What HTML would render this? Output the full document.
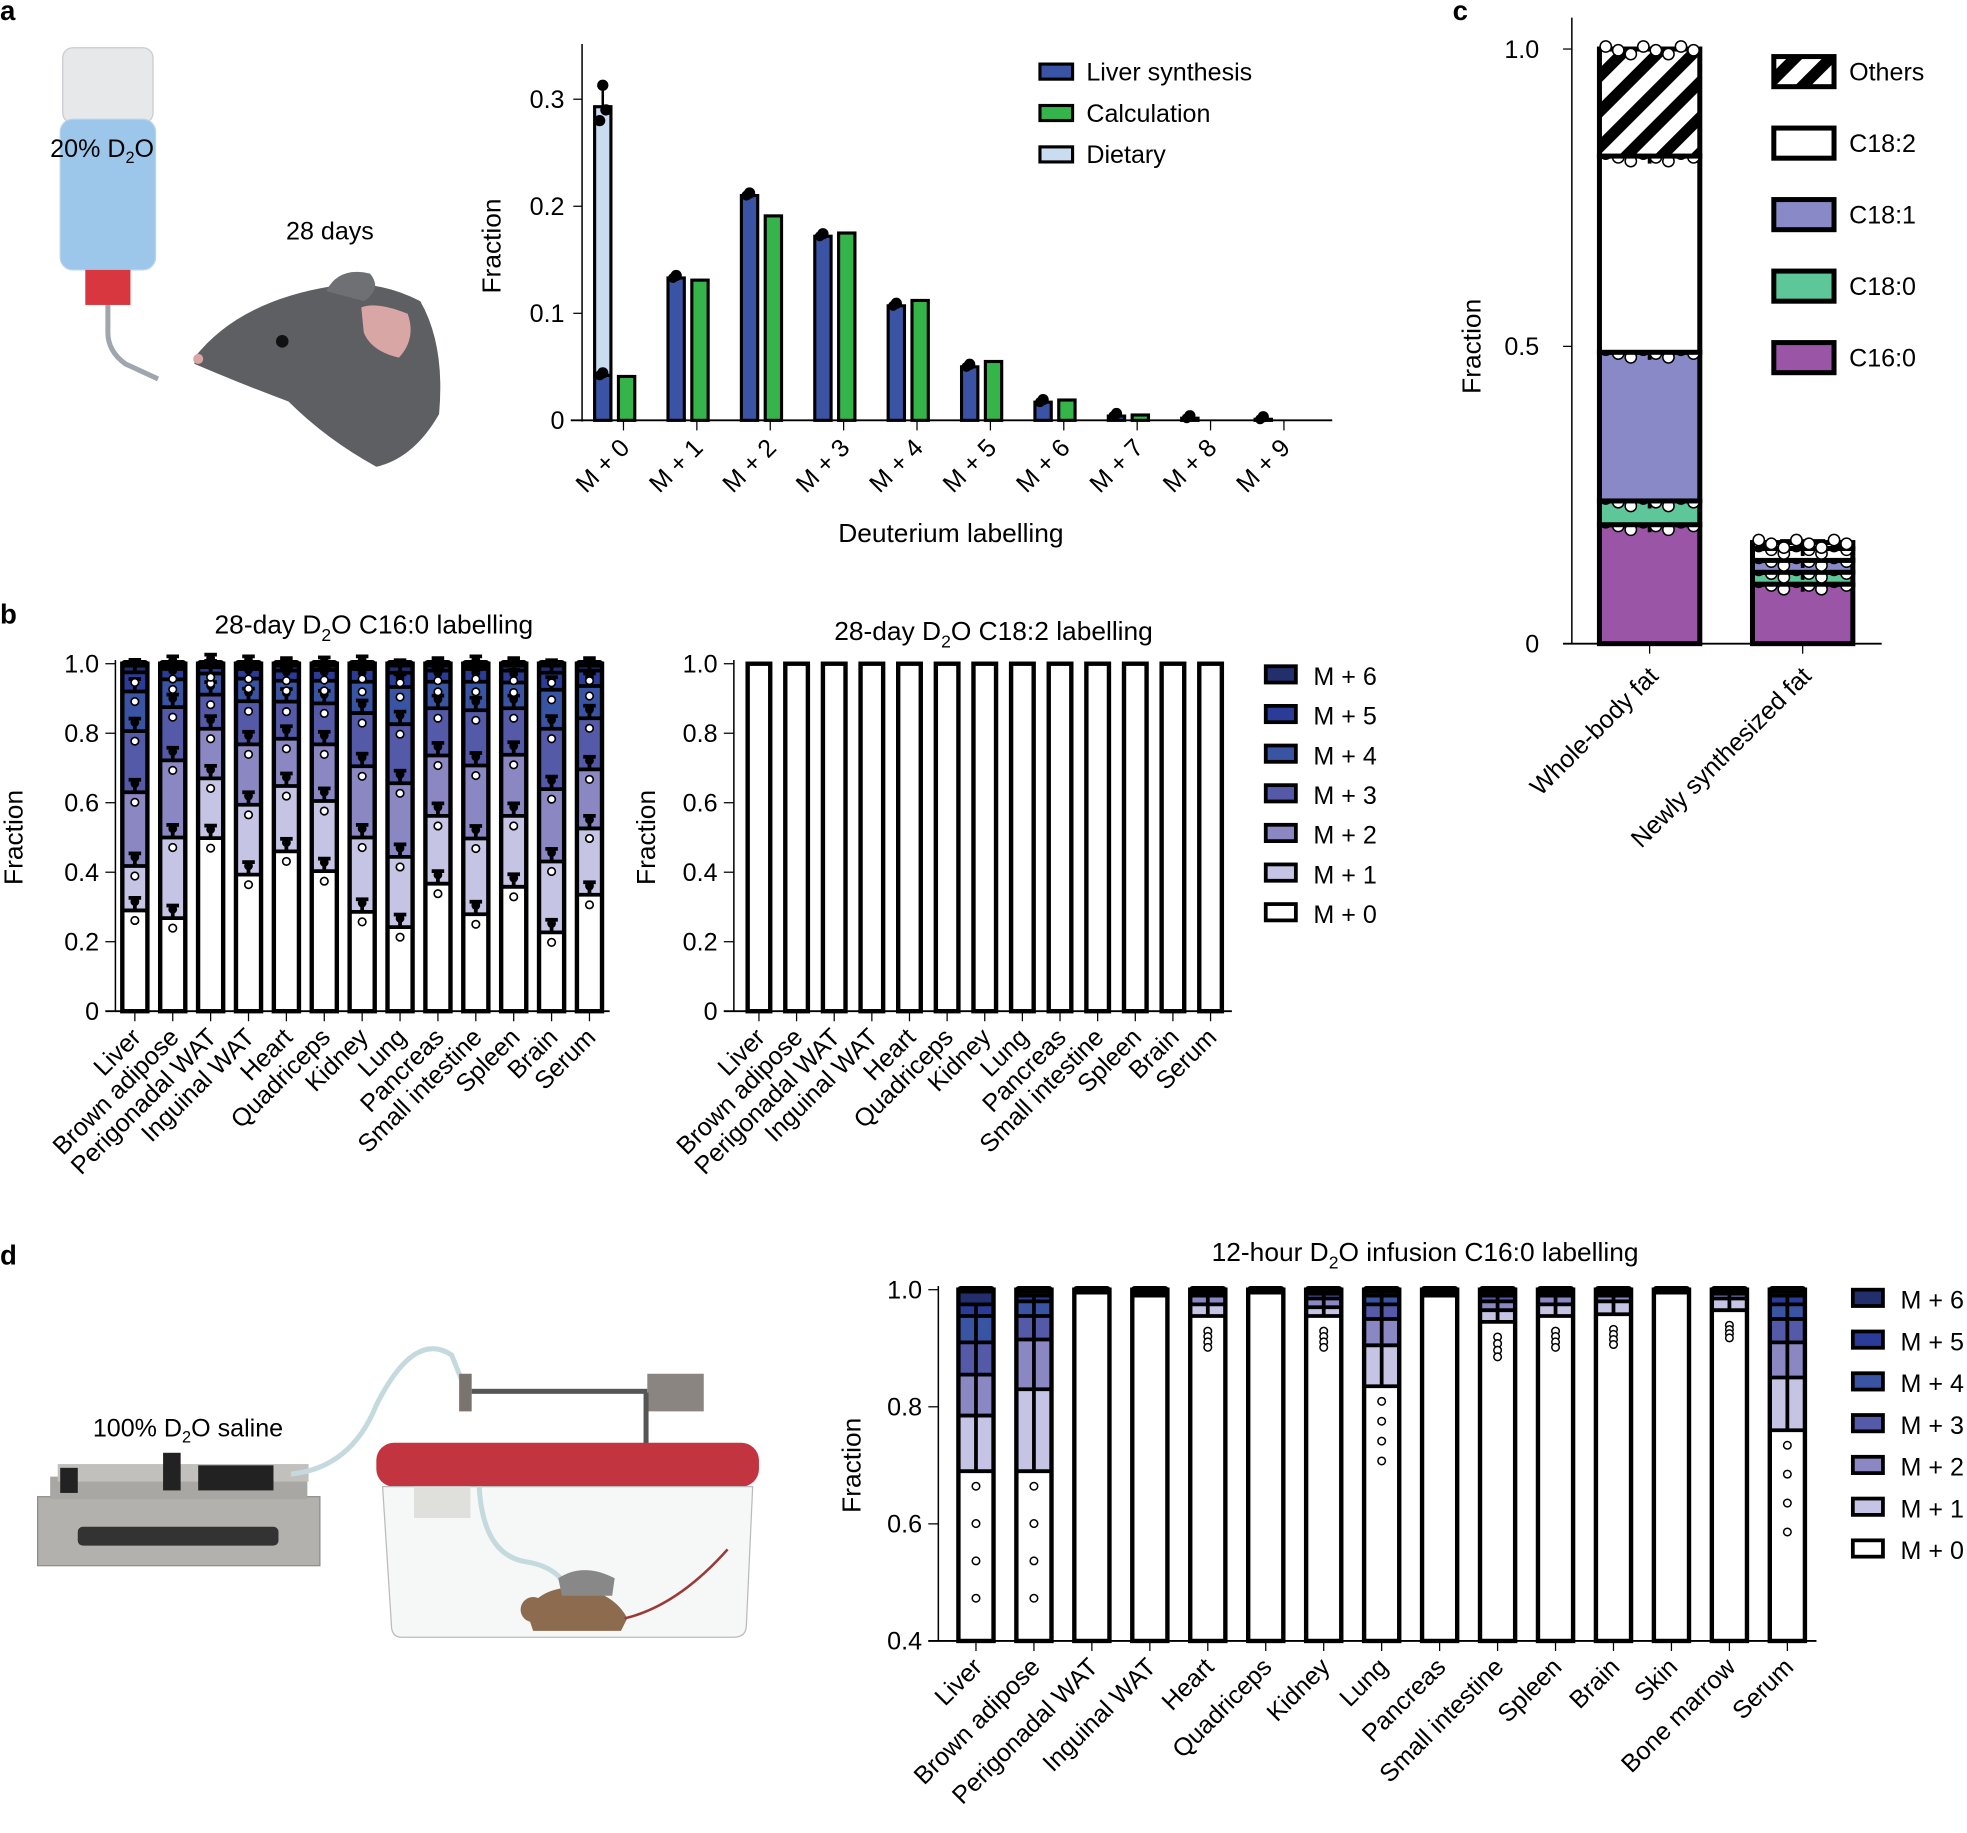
<!DOCTYPE html>
<html><head><meta charset="utf-8"><style>
html,body{margin:0;padding:0;background:#fff;}
svg{display:block;font-family:"Liberation Sans",Arial,sans-serif;}
</style></head><body>
<svg id="fig" width="1967" height="1833" viewBox="0 0 1568 1461" xmlns="http://www.w3.org/2000/svg">
<defs>
<pattern id="hatch" patternUnits="userSpaceOnUse" width="20" height="20" patternTransform="rotate(45)">
<rect width="20" height="20" fill="#fff"/><rect width="9" height="20" fill="#000"/>
</pattern>
</defs>
<text x="0" y="16" font-size="22" font-weight="bold">a</text>
<text x="0" y="497" font-size="22" font-weight="bold">b</text>
<text x="1158" y="16" font-size="22" font-weight="bold">c</text>
<text x="0" y="1008" font-size="22" font-weight="bold">d</text>

<g>
<rect x="50" y="38" width="72" height="60" rx="8" fill="#e6e8ea" stroke="#c8ccd0"/>
<rect x="48" y="95" width="76" height="120" rx="10" fill="#9cc7ea" stroke="#b8d4ea"/>
<rect x="68" y="215" width="36" height="28" fill="#d9373f"/>
<path d="M86 243 L86 265 Q86 280 100 290 L126 302" stroke="#a0a6ad" stroke-width="4" fill="none"/>
</g>
<text x="40" y="125" font-size="20">20% D<tspan font-size="13" dy="5">2</tspan><tspan dy="-5">O</tspan></text>
<text x="228" y="191" font-size="20">28 days</text>
<g>
<path d="M155 285 Q190 240 265 228 Q300 222 335 240 Q355 275 350 330 Q330 365 300 372 Q260 350 230 320 Q190 305 155 290 Z" fill="#5d5f62"/>
<path d="M260 232 Q270 212 295 218 Q305 230 290 240 Z" fill="#6e7074"/>
<path d="M288 245 Q300 240 325 250 Q332 270 318 285 Q296 280 290 265 Z" fill="#d8a7a5"/>
<circle cx="225" cy="272" r="5" fill="#111"/>
<circle cx="158" cy="286" r="4" fill="#d8a7a5"/>
</g>

<g>
<rect x="30" y="1193" width="225" height="55" fill="#b3b1ad" stroke="#8f8d8a"/>
<rect x="40" y="1177" width="205" height="18" fill="#a9a7a3"/>
<rect x="62" y="1217" width="160" height="15" rx="4" fill="#333"/>
<rect x="46" y="1167" width="200" height="14" fill="#c2c0bc"/>
<rect x="130" y="1158" width="14" height="30" fill="#222"/>
<rect x="158" y="1168" width="60" height="20" fill="#222"/>
<rect x="48" y="1170" width="14" height="20" fill="#222"/>
<path d="M232 1175 Q280 1170 300 1120 Q330 1060 360 1080 L368 1100" stroke="#c4dadf" stroke-width="4" fill="none"/>
<rect x="366" y="1095" width="10" height="30" fill="#7b746e"/>
<rect x="376" y="1107" width="140" height="4" fill="#555"/>
<rect x="516" y="1095" width="45" height="30" fill="#8a8580"/>
<rect x="513" y="1110" width="4" height="50" fill="#555"/>
<rect x="300" y="1150" width="305" height="35" rx="14" fill="#c2343f"/>
<path d="M305 1185 L600 1185 L595 1295 Q595 1305 585 1305 L320 1305 Q312 1305 312 1295 Z" fill="#f6f8f8" stroke="#bbb"/>
<rect x="330" y="1185" width="45" height="25" fill="#dfe0dc"/>
<path d="M382 1185 Q385 1240 420 1245 Q450 1250 455 1275" stroke="#c4dadf" stroke-width="4" fill="none"/>
<path d="M420 1285 Q430 1265 460 1265 Q490 1270 500 1290 L495 1300 L425 1300 Z" fill="#8c6b4e"/>
<circle cx="425" cy="1283" r="10" fill="#8c6b4e"/>
<path d="M445 1258 Q465 1245 490 1258 L488 1272 L448 1272 Z" fill="#888"/>
<path d="M498 1290 Q540 1280 580 1235" stroke="#9b3838" stroke-width="2" fill="none"/>
</g>
<text x="74" y="1145" font-size="20">100% D<tspan font-size="13" dy="5">2</tspan><tspan dy="-5">O saline</tspan></text>

<g id="charts"></g>
</svg>
<script>
const aCategories = ["M + 0","M + 1","M + 2","M + 3","M + 4","M + 5","M + 6","M + 7","M + 8","M + 9"];
const aLiver = [0.042,0.133,0.210,0.172,0.107,0.050,0.017,0.004,0.002,0.001];
const aCalc = [0.041,0.131,0.191,0.175,0.112,0.055,0.019,0.005,0.000,0.000];
const aDietaryTop = 0.293;
const aTicks = [0,0.1,0.2,0.3];
const bTissues = ["Liver","Brown adipose","Perigonadal WAT","Inguinal WAT","Heart","Quadriceps","Kidney","Lung","Pancreas","Small intestine","Spleen","Brain","Serum"];
const bC16 = [
 [0.290,0.418,0.630,0.806,0.920,0.975],
 [0.268,0.500,0.722,0.875,0.955,0.985],
 [0.498,0.670,0.813,0.911,0.972,0.990],
 [0.393,0.594,0.768,0.892,0.957,0.985],
 [0.460,0.648,0.784,0.891,0.951,0.980],
 [0.403,0.605,0.768,0.886,0.951,0.982],
 [0.286,0.500,0.705,0.858,0.948,0.985],
 [0.242,0.444,0.656,0.826,0.933,0.974],
 [0.367,0.562,0.736,0.872,0.948,0.980],
 [0.279,0.497,0.707,0.866,0.948,0.985],
 [0.358,0.562,0.738,0.872,0.946,0.980],
 [0.227,0.431,0.639,0.813,0.925,0.974],
 [0.335,0.526,0.696,0.843,0.936,0.980]];
const bC18 = [1,1,1,1,1,1,1,1,1,1,1,1,1];
const bTicks = [0,0.2,0.4,0.6,0.8,1.0];
const bTickLabels = ["0","0.2","0.4","0.6","0.8","1.0"];
const isoLabels = ["M + 6","M + 5","M + 4","M + 3","M + 2","M + 1","M + 0"];
const cCategories = ["Whole-body fat","Newly synthesized fat"];
const cSpecies = ["C16:0","C18:0","C18:1","C18:2","Others"];
const cWhole = [0.20,0.04,0.25,0.33,0.18];
const cNew = [0.10,0.02,0.02,0.02,0.01];
const cTicks = [0,0.5,1.0];
const cTickLabels = ["0","0.5","1.0"];
const dTissues = ["Liver","Brown adipose","Perigonadal WAT","Inguinal WAT","Heart","Quadriceps","Kidney","Lung","Pancreas","Small intestine","Spleen","Brain","Skin","Bone marrow","Serum"];
const dC16 = [
 [0.690,0.785,0.855,0.910,0.955,0.975],
 [0.690,0.830,0.915,0.955,0.980,0.990],
 [0.995,0.997,0.998,0.999,1,1],
 [0.990,0.995,0.998,0.999,1,1],
 [0.955,0.975,0.990,0.995,0.998,1],
 [0.995,0.997,0.998,0.999,1,1],
 [0.955,0.970,0.985,0.993,0.997,1],
 [0.835,0.905,0.950,0.975,0.990,0.997],
 [0.990,0.995,0.998,0.999,1,1],
 [0.945,0.965,0.980,0.990,0.996,1],
 [0.955,0.975,0.990,0.995,0.998,1],
 [0.958,0.980,0.990,0.995,0.998,1],
 [0.995,0.997,0.998,0.999,1,1],
 [0.965,0.985,0.993,0.997,0.999,1],
 [0.760,0.850,0.910,0.950,0.975,0.990]];
const dTicks = [0.4,0.6,0.8,1.0];
const dTickLabels = ["0.4","0.6","0.8","1.0"];

const isoColors = ["#ffffff","#c6c4e4","#8a87c3","#5459a8","#3a54a4","#2b3b98","#232e6c"];
const NS="http://www.w3.org/2000/svg";
const root=document.getElementById('charts');
function el(tag,attrs,parent,txt){const e=document.createElementNS(NS,tag);for(const k in attrs)e.setAttribute(k,attrs[k]);if(txt!==undefined)e.textContent=txt;(parent||root).appendChild(e);return e;}
function lin(d0,d1,r0,r1){return v=>r0+(v-d0)/(d1-d0)*(r1-r0);}

(function(){
 const g=el('g',{});
 
 
 const y=lin(0,0.3,335,79);
 const x=i=>497+58.5*i;
 const ax=el('line',{x1:464,y1:35,x2:464,y2:336,stroke:'#000','stroke-width':1.2},g);
 
 const xx=el('line',{x1:455,y1:335,x2:1062,y2:335,stroke:'#000','stroke-width':1.5},g);
 
 aTicks.forEach(t=>{el('line',{x1:457,x2:464,y1:y(t),y2:y(t),stroke:'#000'},g);
  const tl=el('text',{x:450,y:y(t)+7,'font-size':20,'text-anchor':'end'},g,t===0?'0':t.toFixed(1));
  });
 aCategories.forEach((c,i)=>{
  const cx=x(i);
  el('line',{x1:cx,x2:cx,y1:335,y2:343,stroke:'#000'},g);
  const tl=el('text',{x:cx+6,y:358,'font-size':20,'text-anchor':'end',transform:`rotate(-45 ${cx+6} 358)`},g,c);
  
  const bx=cx-23;
  if(i===0){const d=el('rect',{x:bx,y:y(aDietaryTop),width:13,height:y(aLiver[0])-y(aDietaryTop),fill:'#c9dcf0',stroke:'#000','stroke-width':2.5},g);
   
   el('line',{x1:bx+6.5,x2:bx+6.5,y1:y(aDietaryTop),y2:y(0.313),stroke:'#000','stroke-width':2},g);
   el('circle',{cx:bx+6.5,cy:y(0.313),r:4.5},g);el('circle',{cx:bx+9,cy:y(0.29),r:4.5},g);el('circle',{cx:bx+4,cy:y(0.28),r:4.5},g);}
  const b=el('rect',{x:bx,y:y(aLiver[i]),width:13,height:Math.max(0,y(0)-y(aLiver[i])),fill:'#3b53a5',stroke:'#000','stroke-width':2.5},g);
  
  el('circle',{cx:bx+6.5,cy:y(aLiver[i])-2,r:4.5},g);el('circle',{cx:bx+4,cy:y(aLiver[i]),r:4},g);
  if(aCalc[i]>0.001){const gb=el('rect',{x:cx-4,y:y(aCalc[i]),width:13,height:y(0)-y(aCalc[i]),fill:'#35b44a',stroke:'#000','stroke-width':2.5},g);
  }
 });
 const yl=el('text',{x:0,y:0,'font-size':21,'text-anchor':'middle',transform:'translate(399 196) rotate(-90)'},g,'Fraction');
 
 const xl=el('text',{x:758,y:432,'font-size':21,'text-anchor':'middle'},g,'Deuterium labelling');
 
 [['Liver synthesis','#3b53a5'],['Calculation','#35b44a'],['Dietary','#c9dcf0']].forEach((l,i)=>{
  const lg=el('g',{},g);
  el('rect',{x:829,y:51+33*i,width:26,height:12,fill:l[1],stroke:'#000','stroke-width':2.5},lg);
  el('text',{x:866,y:64+33*i,'font-size':20},lg,l[0]);});
})();

function stacked(opts){
 const g=el('g',{});
 
 
 const y=lin(opts.d0,1,opts.y0,opts.y1);
 const ya=el('line',{x1:opts.ax,x2:opts.ax,y1:opts.y1-3,y2:opts.y0,stroke:'#000','stroke-width':1.2},g);
 
 const xa=el('line',{x1:opts.ax-8,x2:opts.xend,y1:opts.y0,y2:opts.y0,stroke:'#000','stroke-width':1.5},g);
 
 opts.ticks.forEach((t,i)=>{el('line',{x1:opts.ax-8,x2:opts.ax,y1:y(t),y2:y(t),stroke:'#000'},g);
  const tl=el('text',{x:opts.ax-13,y:y(t)+7,'font-size':20,'text-anchor':'end'},g,opts.tickLabels[i]);
  });
 opts.cats.forEach((c,i)=>{
  const cx=opts.x0+opts.step*i, w=opts.bw, bx=cx-w/2;
  el('line',{x1:cx,x2:cx,y1:opts.y0,y2:opts.y0+8,stroke:'#000'},g);
  const tl=el('text',{x:cx+6,y:opts.y0+22,'font-size':20,'text-anchor':'end',transform:`rotate(-45 ${cx+6} ${opts.y0+22})`},g,c);
  
  const bounds=[opts.d0].concat(opts.vals[i]).concat([1]);
  for(let k=0;k<bounds.length-1;k++){
   const lo=Math.max(bounds[k],opts.d0),hi=bounds[k+1];
   if(hi<=lo)continue;
   const seg=el('rect',{x:bx,y:y(hi),width:w,height:y(lo)-y(hi),fill:isoColors[k]},g);
   
   if(k>0&&opts.lines&&lo>opts.d0) el('line',{x1:bx,x2:bx+w,y1:y(lo),y2:y(lo),stroke:'#000','stroke-width':3},g);
  }
  const ol=el('rect',{x:bx,y:y(1),width:w,height:y(opts.d0)-y(1),fill:'none',stroke:'#000','stroke-width':3.5},g);
  
  if(opts.dots){opts.vals[i].forEach(v=>{if(v<0.999){el('line',{x1:cx,x2:cx,y1:y(v),y2:y(v)-10,stroke:'#000','stroke-width':3},g);el('line',{x1:cx-5,x2:cx+5,y1:y(v)-10,y2:y(v)-10,stroke:'#000','stroke-width':3},g);el('circle',{cx:cx,cy:y(v)-7,r:3.5},g);el('circle',{cx:cx,cy:y(v)+8,r:3,fill:'#fff',stroke:'#000','stroke-width':1.3},g);}});
   el('rect',{x:bx-1,y:y(1)-3,width:w+2,height:6,rx:3},g);}
 });
 if(opts.title){const t=el('text',{x:opts.tx,y:opts.ty,'font-size':21,'text-anchor':'middle'},g);
  el('tspan',{},t,opts.title[0]);el('tspan',{'font-size':14,dy:6},t,'2');el('tspan',{dy:-6},t,opts.title[1]);}
 const yl=el('text',{x:0,y:0,'font-size':21,'text-anchor':'middle',transform:`translate(${opts.ylx} ${(opts.y0+opts.y1)/2}) rotate(-90)`},g,'Fraction');
 
 return g;
}
stacked({name:'c16-28day-chart',cats:bTissues,vals:bC16,d0:0,y0:806,y1:529,ax:92,xend:486,x0:107.5,step:30.2,bw:20,ticks:bTicks,tickLabels:bTickLabels,lines:true,dots:true,title:['28-day D','O C16:0 labelling'],tx:298,ty:505,ylx:18});
stacked({name:'c18-2-28day-chart',cats:bTissues,vals:bC18.map(v=>[v,v,v,v,v,v]),d0:0,y0:806,y1:529,ax:585,xend:982,x0:605,step:30,bw:18,ticks:bTicks,tickLabels:bTickLabels,lines:false,dots:false,title:['28-day D','O C18:2 labelling'],tx:792,ty:510,ylx:522});
stacked({name:'c16-12hour-chart',cats:dTissues,vals:dC16,d0:0.4,y0:1308,y1:1028,ax:748,xend:1448,x0:778,step:46.2,bw:28,ticks:dTicks,tickLabels:dTickLabels,lines:true,dots:false,title:['12-hour D','O infusion C16:0 labelling'],tx:1136,ty:1005,ylx:686});
(function(){const y=lin(0.4,1,1308,1028);dC16.forEach((v,i)=>{const cx=778+46.2*i;if(v[0]<0.98){for(let j=0;j<4;j++){el('circle',{cx:cx,cy:y(v[0])+12+j*16*(1-v[0])*6,r:3,fill:'#fff',stroke:'#000','stroke-width':1.2});}
 el('line',{x1:cx,x2:cx,y1:y(v[0]),y2:y(v[5]),stroke:'#000','stroke-width':3});}
 el('rect',{x:cx-15,y:y(1)-3,width:30,height:6,rx:3});});})();
function isoLegend(x,y0,step,name){const g=el('g',{});
 isoLabels.forEach((l,i)=>{const lg=el('g',{},g);
  el('rect',{x:x,y:y0+step*i-7,width:24,height:13,fill:isoColors[6-i],stroke:'#000','stroke-width':3},lg);
  el('text',{x:x+38,y:y0+step*i+8,'font-size':20},lg,l);});}
isoLegend(1009,538,31.6,'legend-28day');
isoLegend(1477,1035,33.3,'legend-12hour');

(function(){
 const g=el('g',{});
 const y=lin(0,1,513,39);
 const cCols=['#9b55a6','#5ec79a','#8a89c8','#ffffff','url(#hatch)'];
 const ya=el('line',{x1:1253,x2:1253,y1:14,y2:513,stroke:'#000','stroke-width':1.2},g);
 const xa=el('line',{x1:1246,x2:1500,y1:513,y2:513,stroke:'#000','stroke-width':1.5},g);
 cTicks.forEach((t,i)=>{el('line',{x1:1246,x2:1253,y1:y(t),y2:y(t),stroke:'#000'},g);
  const tl=el('text',{x:1227,y:y(t)+7,'font-size':20,'text-anchor':'end'},g,cTickLabels[i]);});
 [cWhole,cNew].forEach((vals,i)=>{const cx=1315+122*i;let acc=0;
  el('line',{x1:cx,x2:cx,y1:513,y2:521,stroke:'#000'},g);
  const tl=el('text',{x:cx+8,y:540,'font-size':20,'text-anchor':'end',transform:`rotate(-45 ${cx+8} 540)`},g,cCategories[i]);
  vals.forEach((v,k)=>{const s=el('rect',{x:cx-40,y:y(acc+v),width:80,height:y(acc)-y(acc+v),fill:cCols[k],stroke:'#000','stroke-width':4},g);
   
   acc+=v;
   if(k<4){el('line',{x1:cx,x2:cx,y1:y(acc)-6,y2:y(acc)+6,stroke:'#000','stroke-width':3},g);el('line',{x1:cx-18,x2:cx+18,y1:y(acc)-5,y2:y(acc)-5,stroke:'#000','stroke-width':5},g);}
   for(let j=0;j<8;j++)el('circle',{cx:cx-35+j*10,cy:y(acc)+(j%3)*3-2,r:4.5,fill:'#fff',stroke:'#000','stroke-width':1.2},g);
  });});
 const yl=el('text',{x:0,y:0,'font-size':21,'text-anchor':'middle',transform:'translate(1180 276) rotate(-90)'},g,'Fraction');
 for(let k=4;k>=0;k--){const i=4-k;const lg=el('g',{},g);
  el('rect',{x:1414,y:45+57*i,width:48,height:24,fill:cCols[k],stroke:'#000','stroke-width':4},lg);
  el('text',{x:1474,y:64+57*i,'font-size':20},lg,cSpecies[k]);}
})();
</script>
</body></html>
